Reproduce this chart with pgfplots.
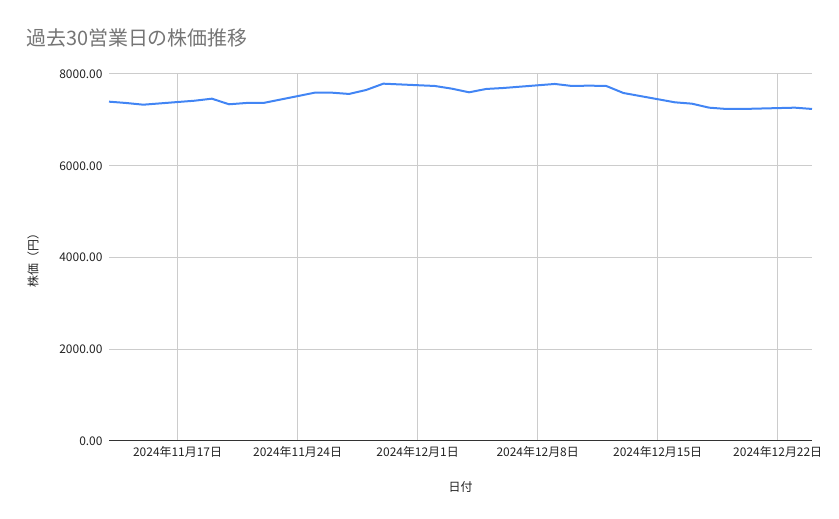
\documentclass[border=0pt]{standalone}
\usepackage{fontspec}
\setmainfont{Noto Sans CJK JP}
\usepackage{pgfplots}
\pgfplotsset{compat=1.18}
\definecolor{lineblue}{HTML}{4285F4}
\definecolor{gridgray}{HTML}{CCCCCC}
\definecolor{titlegray}{HTML}{757575}
\definecolor{axisdark}{HTML}{333333}
\definecolor{labeldark}{HTML}{222222}

% day of month, counting on from 30 Nov (12/1 = 31)
\pgfplotstableread{
day price
13 7397
14 7368
15 7331
18 7418
19 7462
20 7340
21 7368
22 7368
25 7593
26 7593
27 7565
28 7652
29 7789
32 7739
33 7680
34 7601
35 7674
36 7695
39 7783
40 7739
41 7746
42 7739
43 7586
46 7383
47 7353
48 7266
49 7238
50 7238
53 7266
54 7238
}\prices

\begin{document}
\begin{tikzpicture}
\path[use as bounding box] (0,0) rectangle (839bp,519bp);
\node[anchor=west, text=titlegray, font=\fontsize{20}{24}\selectfont, inner sep=0pt]
  at (26bp,481bp) {過去30営業日の株価推移};
\begin{axis}[
    at={(109bp,78bp)}, anchor=south west,
    scale only axis,
    width=703bp, height=367bp,
    xmin=13, xmax=54,
    ymin=0, ymax=8000,
    xtick={17,24,31,38,45,52},
    xticklabels={2024年11月17日,2024年11月24日,2024年12月1日,2024年12月8日,2024年12月15日,2024年12月22日},
    ytick={0,2000,4000,6000,8000},
    yticklabels={0.00,2000.00,4000.00,6000.00,8000.00},
    grid=major,
    major grid style={gridgray, line width=1bp},
    axis lines*=left,
    axis line style={-},
    y axis line style={draw=none},
    x axis line style={axisdark, line width=1bp},
    major tick length=0pt,
    tick style={draw=none},
    ticklabel style={font=\fontsize{12}{14}\selectfont, text=labeldark},
    yticklabel style={xshift=-3bp},
    xticklabel style={yshift=-2bp},
    xlabel={日付},
    ylabel={株価（円）},
    label style={font=\fontsize{12}{14}\selectfont, text=labeldark},
    xlabel style={at={(axis description cs:0.5,-0.1253)}, anchor=center},
    ylabel style={at={(axis description cs:-0.1081,0.5)}, anchor=center},
    clip=false,
]
\addplot[lineblue, line width=2bp, line join=round] table[x=day, y=price] {\prices};
\end{axis}
\end{tikzpicture}
\end{document}
